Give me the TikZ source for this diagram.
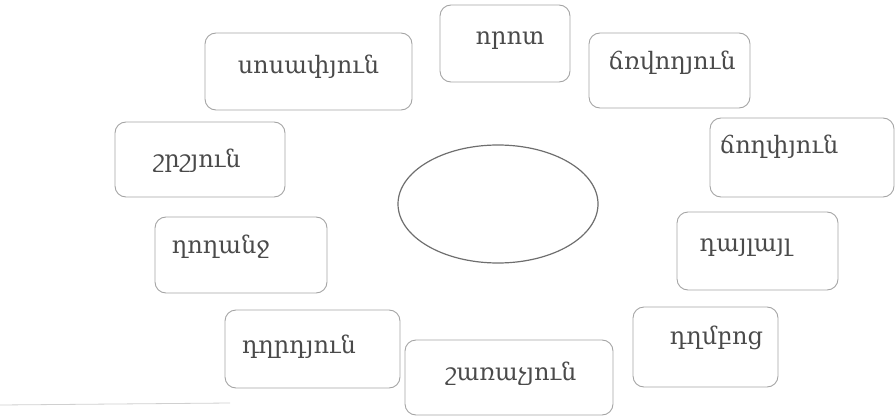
\documentclass[tikz,border=0pt]{standalone}
\usepackage{fontspec}
\setmainfont{DejaVu Serif}
\usetikzlibrary{shapes.geometric}
\definecolor{boxline}{HTML}{A4A4A4}
\definecolor{txt}{HTML}{4A4A4A}
\definecolor{ellline}{HTML}{6E6E6E}
\definecolor{faint}{HTML}{D0D0D0}
\begin{document}
\begin{tikzpicture}[x=1pt,y=-1pt,
  wbox/.style={draw=boxline, line width=0.9pt, rounded corners=11pt, inner sep=0pt},
  lbl/.style={text=txt, inner sep=0pt, font=\fontsize{24}{28}\selectfont},
  oval/.style={ellipse, draw=ellline, line width=1.2pt, inner sep=0pt}]
\useasboundingbox (0,0) rectangle (896,417);
% boxes
\node[wbox, minimum width=207pt, minimum height=77pt] (b1) at (308.5,71.5) {};
\node[wbox, minimum width=130pt, minimum height=77pt] (b2) at (505,43.5) {};
\node[wbox, minimum width=161pt, minimum height=75pt] (b3) at (669.5,70.5) {};
\node[wbox, minimum width=170pt, minimum height=75pt] (b4) at (200,159.5) {};
\node[wbox, minimum width=184pt, minimum height=79pt] (b5) at (802,157.5) {};
\node[wbox, minimum width=172pt, minimum height=76pt] (b6) at (241,255) {};
\node[wbox, minimum width=161pt, minimum height=78pt] (b7) at (757.5,251) {};
\node[wbox, minimum width=175pt, minimum height=78pt] (b8) at (312.5,349) {};
\node[wbox, minimum width=208pt, minimum height=75pt] (b9) at (509,377.5) {};
\node[wbox, minimum width=145pt, minimum height=80pt] (b10) at (705.5,347) {};
% labels
\node[lbl] (t1) at (308.5,67) {սոսափյուն};
\node[lbl] (t2) at (510,41) {որոտ};
\node[lbl] (t3) at (672,63) {ճռվողյուն};
\node[lbl] (t4) at (197,161) {շրշյուն};
\node[lbl] (t5) at (779,147) {ճողփյուն};
\node[lbl] (t6) at (221,247) {ղողանջ};
\node[lbl] (t7) at (745.5,248) {դայլայլ};
\node[lbl] (t8) at (299,347) {դղրդյուն};
\node[lbl] (t9) at (511,374) {շառաչյուն};
\node[lbl] (t10) at (716.5,338) {դղմբոց};
% central ellipse
\node[oval, minimum width=200pt, minimum height=118pt] (c) at (498,204) {};
% faint scan line
\coordinate (f1) at (0,405);
\coordinate (f2) at (230,403);
\draw[faint, line width=0.8pt] (f1) -- (f2);
\end{tikzpicture}
\end{document}
